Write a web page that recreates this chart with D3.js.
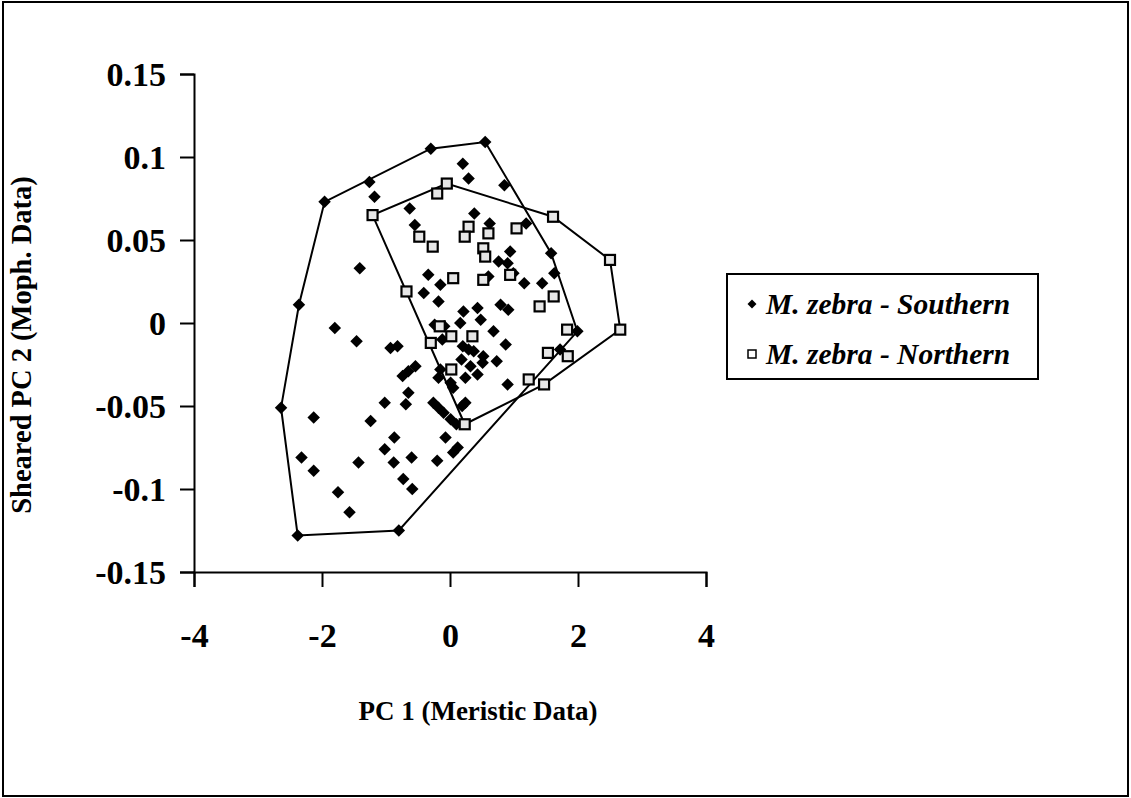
<!DOCTYPE html>
<html>
<head>
<meta charset="utf-8">
<script src="https://cdn.jsdelivr.net/npm/d3@7"></script>
<style>
  body { margin: 0; background: #fff; }
  svg { display: block; }
  text { font-family: "Liberation Serif", "Times New Roman", serif; font-weight: bold; fill: #000; }
</style>
</head>
<body>
<svg id="chart" width="1131" height="798"></svg>
<script>
// M. zebra - Southern : [PC1, sheared PC2]
const southern = [
  [-0.30, 0.105], [0.55, 0.109], [-1.26, 0.085], [-1.18, 0.076], [-1.96, 0.073],
  [0.20, 0.096], [0.29, 0.087], [0.85, 0.083], [-0.63, 0.069], [-0.55, 0.059],
  [0.38, 0.066], [1.19, 0.060], [0.62, 0.060], [0.94, 0.043], [1.58, 0.042],
  [0.76, 0.037], [0.90, 0.036], [1.63, 0.030], [1.44, 0.024], [1.16, 0.024],
  [0.99, 0.030], [0.60, 0.028], [-0.34, 0.029], [-0.15, 0.023], [-0.41, 0.018],
  [-1.41, 0.033], [-2.36, 0.011], [-0.18, 0.013], [0.21, 0.007], [0.43, 0.009],
  [0.79, 0.011], [0.91, 0.008], [-1.80, -0.003], [-1.46, -0.011], [-0.93, -0.015],
  [-0.82, -0.014], [-0.24, -0.001], [-0.09, -0.002], [0.16, 0.000], [0.48, 0.002],
  [0.68, -0.005], [0.87, -0.013], [-0.12, -0.010], [0.20, -0.014], [0.29, -0.016],
  [0.37, -0.017], [0.18, -0.022], [0.52, -0.020], [0.73, -0.023], [1.72, -0.016],
  [1.99, -0.005], [-0.74, -0.032], [-0.65, -0.029], [-0.54, -0.026], [-0.15, -0.028],
  [-0.18, -0.033], [0.01, -0.036], [0.05, -0.039], [0.32, -0.026], [0.43, -0.031],
  [0.24, -0.033], [0.51, -0.024], [0.90, -0.037], [-0.65, -0.042], [-0.69, -0.049],
  [-1.02, -0.048], [-2.64, -0.051], [-2.13, -0.057], [-1.24, -0.059], [-0.26, -0.048],
  [-0.18, -0.051], [-0.10, -0.054], [0.24, -0.048], [0.19, -0.050], [0.01, -0.058],
  [0.10, -0.061], [-0.87, -0.069], [-1.02, -0.076], [-0.07, -0.069], [0.12, -0.075],
  [0.05, -0.078], [-2.32, -0.081], [-2.13, -0.089], [-1.43, -0.084], [-0.88, -0.084],
  [-0.60, -0.081], [-0.20, -0.083], [-0.73, -0.094], [-0.59, -0.100], [-1.75, -0.102],
  [-1.57, -0.114], [-2.38, -0.128], [-0.80, -0.125]
];

// M. zebra - Northern
const northern = [
  [-1.21, 0.065], [-0.20, 0.078], [-0.05, 0.084], [-0.48, 0.052], [-0.27, 0.046],
  [0.29, 0.058], [0.23, 0.052], [0.05, 0.027], [-0.68, 0.019], [1.61, 0.064],
  [2.50, 0.038], [1.04, 0.057], [0.60, 0.054], [0.52, 0.045], [0.55, 0.040],
  [0.94, 0.029], [0.52, 0.026], [1.62, 0.016], [1.40, 0.010], [1.83, -0.004],
  [1.53, -0.018], [1.84, -0.020], [1.23, -0.034], [1.47, -0.037], [2.66, -0.004],
  [-0.16, -0.002], [0.02, -0.008], [0.35, -0.008], [-0.30, -0.012], [0.02, -0.028],
  [0.23, -0.061]
];

const xTicks = [-4, -2, 0, 2, 4];
const yTicks = [-0.15, -0.1, -0.05, 0, 0.05, 0.1, 0.15];
const seriesNames = ['M. zebra - Southern', 'M. zebra - Northern'];
const xTitle = 'PC 1 (Meristic Data)';
const yTitle = 'Sheared PC 2 (Moph. Data)';

const svg = d3.select('#chart');

// outer frame of the figure
svg.append('rect')
  .attr('x', 3).attr('y', 2)
  .attr('width', 1125).attr('height', 794)
  .attr('fill', 'none').attr('stroke', '#000').attr('stroke-width', 2);

const x = d3.scaleLinear().domain([-4, 4]).range([194, 706]);
const y = d3.scaleLinear().domain([-0.15, 0.15]).range([572, 74]);

// plain hyphen for negatives, like the original sheet
const hyphen = s => s.replace('\u2212', '-');

const xAxis = svg.append('g')
  .attr('transform', `translate(0,${y(-0.15)})`)
  .call(d3.axisBottom(x).tickValues(xTicks).tickSize(15).tickPadding(36)
    .tickFormat(d => hyphen(d3.format('d')(d))));
const yAxis = svg.append('g')
  .attr('transform', `translate(${x(-4)},0)`)
  .call(d3.axisLeft(y).tickValues(yTicks).tickSize(14).tickPadding(14)
    .tickFormat(d => d === 0 ? '0' : hyphen(d3.format('.2~f')(d))));

[xAxis, yAxis].forEach(g => {
  g.select('.domain').attr('stroke', '#000').attr('stroke-width', 2);
  g.selectAll('.tick line').attr('stroke', '#000').attr('stroke-width', 2);
  g.selectAll('.tick text')
    .style('font-family', '"Liberation Serif", serif')
    .style('font-weight', 'bold')
    .style('font-size', '34px')
    .attr('fill', '#000');
});
yAxis.selectAll('.tick text').attr('dy', '0.34em');

// axis titles
svg.append('text')
  .attr('x', 478).attr('y', 720)
  .attr('text-anchor', 'middle')
  .style('font-size', '27px')
  .text(xTitle);
svg.append('text')
  .attr('transform', `translate(31,${y(0) + 22}) rotate(-90)`)
  .attr('text-anchor', 'middle')
  .style('font-size', '28.5px')
  .text(yTitle);

// convex hulls around each group
const toPx = d => [x(d[0]), y(d[1])];
[southern, northern].forEach(series => {
  const hull = d3.polygonHull(series.map(toPx));
  svg.append('path')
    .attr('d', 'M' + hull.join('L') + 'Z')
    .attr('fill', 'none')
    .attr('stroke', '#000')
    .attr('stroke-width', 2);
});

const diamond = d3.symbol().type(d3.symbolSquare).size(78);

svg.append('g').selectAll('path')
  .data(southern)
  .join('path')
  .attr('d', diamond)
  .attr('transform', d => `translate(${x(d[0])},${y(d[1])}) rotate(45)`)
  .attr('fill', '#000');

svg.append('g').selectAll('rect')
  .data(northern)
  .join('rect')
  .attr('x', d => x(d[0]) - 5)
  .attr('y', d => y(d[1]) - 5)
  .attr('width', 10).attr('height', 10)
  .attr('fill', '#e6e6e6')
  .attr('stroke', '#000')
  .attr('stroke-width', 2.2);

// legend
const legend = svg.append('g');
legend.append('rect')
  .attr('x', 727).attr('y', 274)
  .attr('width', 311).attr('height', 105)
  .attr('fill', '#fff').attr('stroke', '#000').attr('stroke-width', 2);

const rows = legend.selectAll('g.row')
  .data(seriesNames)
  .join('g')
  .attr('class', 'row')
  .attr('transform', (d, i) => `translate(752,${304 + i * 50})`);

rows.filter((d, i) => i === 0).append('path')
  .attr('d', d3.symbol().type(d3.symbolSquare).size(40))
  .attr('transform', 'rotate(45)')
  .attr('fill', '#000');
rows.filter((d, i) => i === 1).append('rect')
  .attr('x', -4).attr('y', -4).attr('width', 8).attr('height', 8)
  .attr('fill', '#fff').attr('stroke', '#000').attr('stroke-width', 1.5);

rows.append('text')
  .attr('x', 14).attr('y', 10)
  .style('font-size', '29.5px')
  .style('font-style', 'italic')
  .text(d => d);
</script>
</body>
</html>
